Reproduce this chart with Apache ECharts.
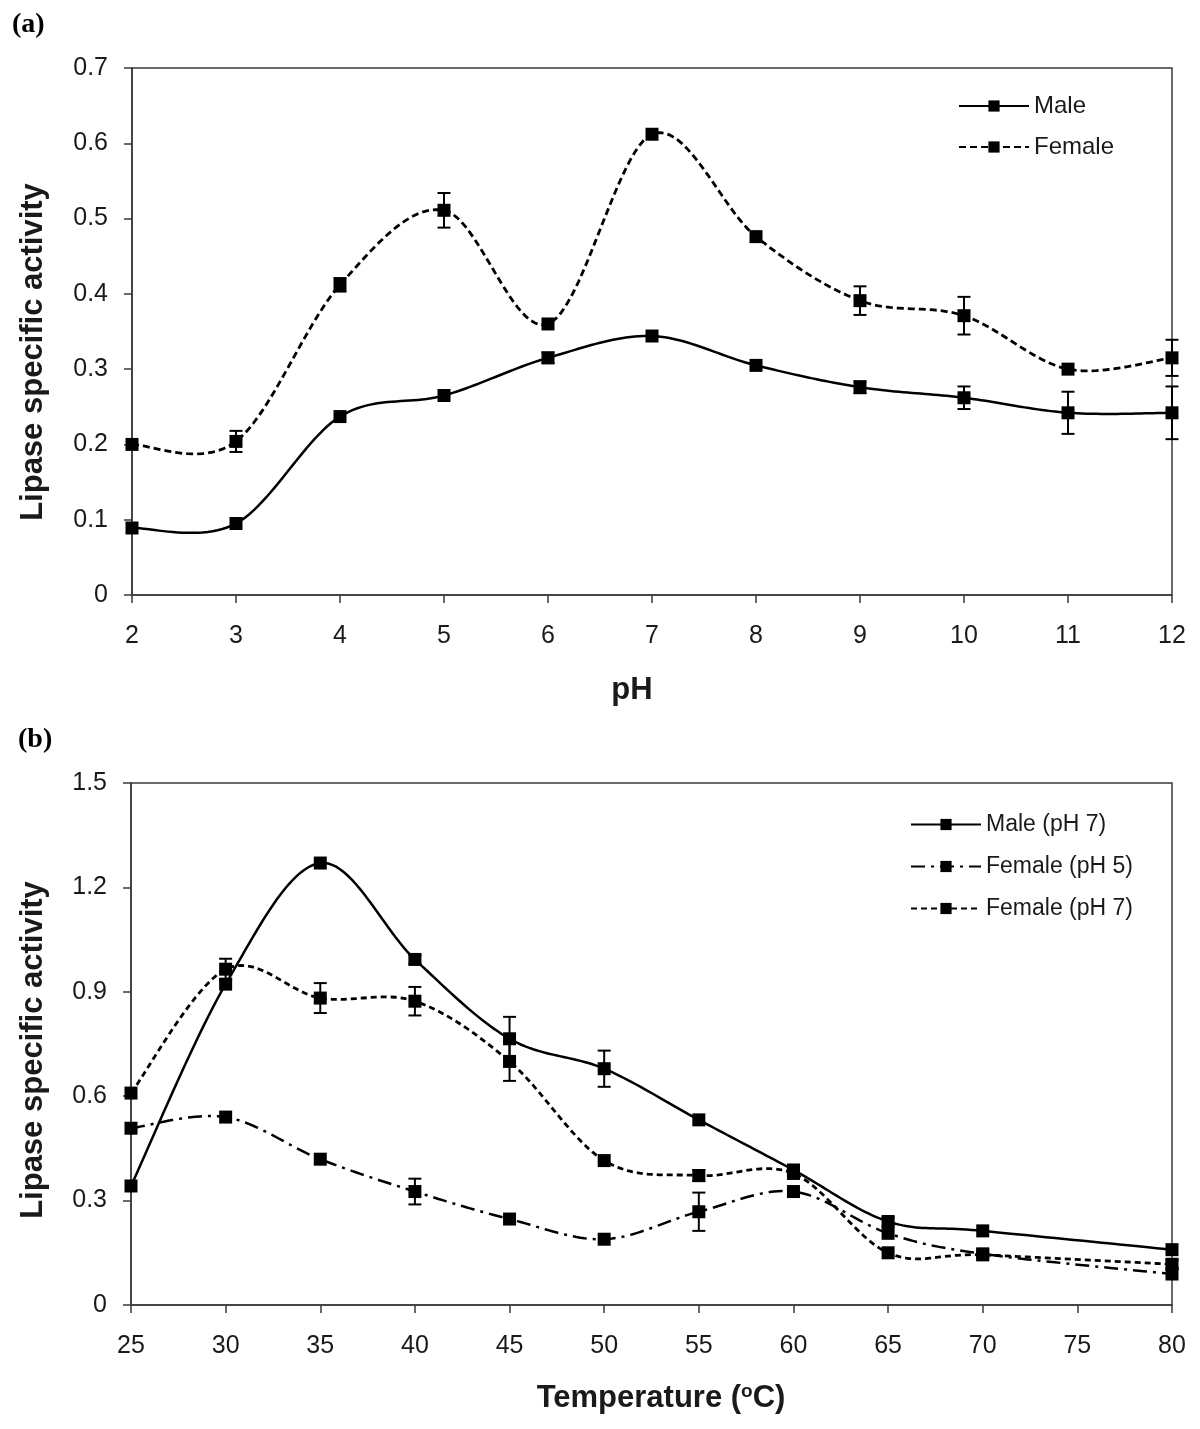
<!DOCTYPE html>
<html>
<head>
<meta charset="utf-8">
<script src="https://cdn.jsdelivr.net/npm/echarts@6/dist/echarts.min.js"></script>
<style>
  html, body { margin: 0; padding: 0; background: #fff; }
  #main { width: 1200px; height: 1429px; }
</style>
</head>
<body>
<div id="main"></div>
<script>
// (a) activity vs pH
var phValues = [2, 3, 4, 5, 6, 7, 8, 9, 10, 11, 12];
var maleA = [0.089, 0.095, 0.237, 0.265, 0.315, 0.344, 0.305, 0.276, 0.262, 0.242, 0.242];
var femaleA = [0.200, 0.204, 0.412, 0.511, 0.360, 0.612, 0.476, 0.391, 0.371, 0.300, 0.315];
var maleErrA = [0, 0, 0, 0, 0.007, 0, 0, 0.008, 0.015, 0.028, 0.035];
var femaleErrA = [0, 0.014, 0.009, 0.023, 0, 0, 0, 0.019, 0.025, 0, 0.024];

// (b) activity vs temperature
var temps = [25, 30, 35, 40, 45, 50, 55, 60, 65, 70, 80];
var maleB = [0.342, 0.922, 1.270, 0.993, 0.765, 0.679, 0.532, 0.388, 0.240, 0.213, 0.159];
var femaleP5B = [0.508, 0.540, 0.419, 0.326, 0.247, 0.189, 0.268, 0.326, 0.206, 0.147, 0.089];
var femaleP7B = [0.609, 0.965, 0.882, 0.873, 0.700, 0.415, 0.372, 0.378, 0.150, 0.144, 0.117];
var maleErrB = [0, 0, 0, 0.012, 0.063, 0.052, 0, 0.010, 0.012, 0, 0];
var femaleP5ErrB = [0, 0, 0, 0.037, 0, 0, 0.055, 0.012, 0, 0, 0];
var femaleP7ErrB = [0, 0.030, 0.043, 0.041, 0.056, 0, 0.016, 0, 0, 0, 0.012];

var namesA = ['Male', 'Female'];
var namesB = ['Male (pH 7)', 'Female (pH 5)', 'Female (pH 7)'];

function pairs(xs, ys) {
    var out = [];
    for (var i = 0; i < xs.length; i++) out.push([xs[i], ys[i]]);
    return out;
}
function errItems(xs, ys, es) {
    var out = [];
    for (var i = 0; i < xs.length; i++) {
        if (es[i] > 0) out.push([xs[i], ys[i] - es[i], ys[i] + es[i]]);
    }
    return out;
}

var txt = '#1a1a1a';
var axisCol = '#3a3a3a';
var font = 'Liberation Sans, Arial, sans-serif';

function errRender(params, api) {
    var x = api.value(0);
    var lo = api.coord([x, api.value(1)]);
    var hi = api.coord([x, api.value(2)]);
    var hw = 6.5;
    var st = { stroke: '#000', lineWidth: 2 };
    return {
        type: 'group',
        children: [
            { type: 'line', shape: { x1: lo[0], y1: lo[1], x2: hi[0], y2: hi[1] }, style: st },
            { type: 'line', shape: { x1: lo[0] - hw, y1: lo[1], x2: lo[0] + hw, y2: lo[1] }, style: st },
            { type: 'line', shape: { x1: hi[0] - hw, y1: hi[1], x2: hi[0] + hw, y2: hi[1] }, style: st }
        ]
    };
}

// spreadsheet-style smoothed curve (catmull-rom bezier) through the data points
function curveSeries(xi, xs, ys, dash, width) {
    return {
        type: 'custom',
        xAxisIndex: xi,
        yAxisIndex: xi,
        data: pairs(xs, ys),
        encode: { x: 0, y: 1 },
        z: 2,
        silent: true,
        renderItem: function (params, api) {
            if (params.dataIndex !== 0) return null;
            var p = [];
            for (var i = 0; i < xs.length; i++) p.push(api.coord([xs[i], ys[i]]));
            var n = p.length, pts = [p[0]];
            for (var k = 0; k < n - 1; k++) {
                var p0 = p[Math.max(k - 1, 0)], p1 = p[k], p2 = p[k + 1], p3 = p[Math.min(k + 2, n - 1)];
                var c1 = [p1[0] + (p2[0] - p0[0]) / 6, p1[1] + (p2[1] - p0[1]) / 6];
                var c2 = [p2[0] - (p3[0] - p1[0]) / 6, p2[1] - (p3[1] - p1[1]) / 6];
                for (var s = 1; s <= 24; s++) {
                    var t = s / 24, u = 1 - t;
                    pts.push([
                        u * u * u * p1[0] + 3 * u * u * t * c1[0] + 3 * u * t * t * c2[0] + t * t * t * p2[0],
                        u * u * u * p1[1] + 3 * u * u * t * c1[1] + 3 * u * t * t * c2[1] + t * t * t * p2[1]
                    ]);
                }
            }
            return {
                type: 'polyline',
                shape: { points: pts },
                style: { stroke: '#000', lineWidth: width, lineDash: dash, fill: null }
            };
        }
    };
}

// markers (the connecting line is drawn by the curve series; kept for the legend icon)
function markerSeries(name, xi, data, type, width) {
    return {
        name: name,
        type: 'line',
        xAxisIndex: xi,
        yAxisIndex: xi,
        data: data,
        symbol: 'rect',
        symbolSize: 13,
        z: 3,
        itemStyle: { color: '#000' },
        lineStyle: { color: '#000', width: width, type: type, opacity: 0 },
        emphasis: { disabled: true }
    };
}
function errSeries(xi, data) {
    return {
        type: 'custom',
        xAxisIndex: xi,
        yAxisIndex: xi,
        data: data,
        renderItem: errRender,
        encode: { x: 0, y: [1, 2] },
        z: 2,
        silent: true
    };
}

function xAxisCfg(gi, min, max, interval) {
    return {
        gridIndex: gi, type: 'value', min: min, max: max, interval: interval,
        axisLine: { show: true, lineStyle: { color: axisCol, width: 1.5 } },
        axisTick: { show: true, inside: false, length: 8, lineStyle: { color: axisCol, width: 1.5 } },
        axisLabel: { fontFamily: font, fontSize: 25, color: txt, margin: 29 },
        splitLine: { show: false }
    };
}
function yAxisCfg(gi, max, interval) {
    return {
        gridIndex: gi, type: 'value', min: 0, max: max, interval: interval,
        axisLine: { show: true, lineStyle: { color: axisCol, width: 1.5 } },
        axisTick: { show: true, inside: false, length: 8, lineStyle: { color: axisCol, width: 1.5 } },
        axisLabel: {
            fontFamily: font, fontSize: 25, color: txt, margin: 24,
            formatter: function (v) { return v === 0 ? '0' : v.toFixed(1); }
        },
        splitLine: { show: false }
    };
}
function legendCfg(names, left, top, gap, size) {
    var items = [];
    for (var i = 0; i < names.length; i++) items.push({ name: names[i], lineStyle: { opacity: 1 } });
    return {
        data: items, orient: 'vertical', left: left, top: top,
        itemWidth: 70, itemHeight: 14, itemGap: gap,
        textStyle: { fontFamily: font, fontSize: size, color: txt },
        selectedMode: false
    };
}

var titleFont = 'bold 31px "Liberation Sans", Arial, sans-serif';
var panelFont = 'bold 28px "Liberation Serif", "Times New Roman", serif';

var chart = echarts.init(document.getElementById('main'));
chart.setOption({
    animation: false,
    backgroundColor: '#fff',
    graphic: [
        { type: 'text', left: 12, top: 11, style: { text: '(a)', font: panelFont, fill: '#000' } },
        { type: 'text', left: 18, top: 726, style: { text: '(b)', font: panelFont, fill: '#000' } },
        { type: 'text', x: 33, y: 352, rotation: Math.PI / 2,
          style: { text: 'Lipase specific activity', font: titleFont, fill: txt, align: 'center', verticalAlign: 'middle' } },
        { type: 'text', x: 33, y: 1050, rotation: Math.PI / 2,
          style: { text: 'Lipase specific activity', font: titleFont, fill: txt, align: 'center', verticalAlign: 'middle' } },
        { type: 'text', x: 632, y: 690,
          style: { text: 'pH', font: titleFont, fill: txt, align: 'center', verticalAlign: 'middle' } },
        { type: 'text', x: 661, y: 1398,
          style: {
              text: 'Temperature ({s|o}C)', font: titleFont, fill: txt, align: 'center', verticalAlign: 'middle',
              rich: { s: { font: 'bold 19px "Liberation Sans", Arial, sans-serif', fill: txt, verticalAlign: 'top', padding: [0, 0, 12, 0] } }
          } }
    ],
    legend: [
        legendCfg(namesA, 953, 89, 17, 24),
        legendCfg(namesB, 905, 808, 19, 23)
    ],
    grid: [
        { left: 132, top: 68, width: 1040, height: 527, show: true, borderColor: axisCol, borderWidth: 1.5 },
        { left: 131, top: 783, width: 1041, height: 522, show: true, borderColor: axisCol, borderWidth: 1.5 }
    ],
    xAxis: [
        xAxisCfg(0, 2, 12, 1),
        xAxisCfg(1, 25, 80, 5)
    ],
    yAxis: [
        yAxisCfg(0, 0.7, 0.1),
        yAxisCfg(1, 1.5, 0.3)
    ],
    series: [
        curveSeries(0, phValues, maleA, null, 2.5),
        curveSeries(0, phValues, femaleA, [7, 4], 2.8),
        markerSeries(namesA[0], 0, pairs(phValues, maleA), 'solid', 2.5),
        markerSeries(namesA[1], 0, pairs(phValues, femaleA), [7, 4], 2.8),
        errSeries(0, errItems(phValues, maleA, maleErrA).concat(errItems(phValues, femaleA, femaleErrA))),
        curveSeries(1, temps, maleB, null, 2.5),
        curveSeries(1, temps, femaleP5B, [14, 6, 3, 6], 2.5),
        curveSeries(1, temps, femaleP7B, [6, 4], 2.8),
        markerSeries(namesB[0], 1, pairs(temps, maleB), 'solid', 2.5),
        markerSeries(namesB[1], 1, pairs(temps, femaleP5B), [14, 6, 3, 6], 2.5),
        markerSeries(namesB[2], 1, pairs(temps, femaleP7B), [6, 4], 2.8),
        errSeries(1, errItems(temps, maleB, maleErrB)
            .concat(errItems(temps, femaleP5B, femaleP5ErrB))
            .concat(errItems(temps, femaleP7B, femaleP7ErrB)))
    ]
});
</script>
</body>
</html>
